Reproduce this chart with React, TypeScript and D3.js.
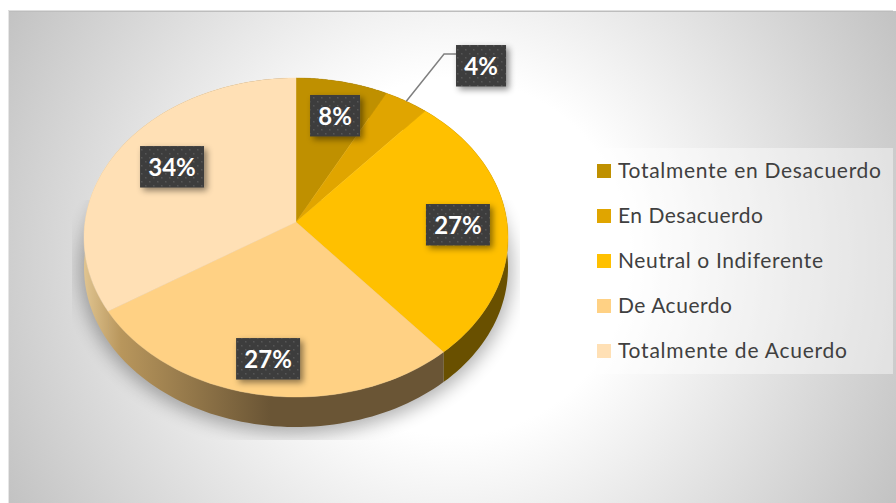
import React from "react";
import * as d3 from "d3";

const categories = ["Totalmente en Desacuerdo", "En Desacuerdo", "Neutral o Indiferente", "De Acuerdo", "Totalmente de Acuerdo"];
const values = [7.7, 3.7, 27.4, 27.2, 34.0];
const colors = ["#BF9000", "#E0A500", "#FFC000", "#FFD184", "#FFE0B5"];
const legendWidths = [263, 145, 205, 114, 229];
// label anchors in the pie's own unit-disc coordinates
const labelAnchors: [number, number][] = [[0.198, -0.718], [0.97, -1.092], [0.766, 0.019], [-0.122, 0.8], [-0.608, -0.36]];

const W = 896, H = 503;
const cx = 296, cy = 222, a = 211, b = 158, p = 0.0972, depth = 30;
const project = (u: number, v: number): [number, number] => {
  const d = 1 - p * v;
  return [cx + (a * u) / d, cy + (b * v) / d];
};
const rim = (t: number) => project(Math.sin(t), -Math.cos(t));
const arcs = d3.pie<number>().sort(null).value((d) => d)(values);
const line = d3.line();

const rimPoints = (s: number, e: number) => d3.range(0, 61).map((i) => rim(s + ((e - s) * i) / 60));

export default function App() {
  const legendY = d3.scalePoint<number>().domain(d3.range(5)).range([171, 351]);
  return (
    <svg width={W} height={H} style={{ position: "absolute", left: 0, top: 0 }} fontFamily="Lato, 'Open Sans', sans-serif">
      <defs>
        <radialGradient id="bg" gradientUnits="userSpaceOnUse" cx={452} cy={257} r={510}>
          <stop offset="0.35" stopColor="#ffffff" />
          <stop offset="1" stopColor="#c2c2c2" />
        </radialGradient>
        <linearGradient id="wallLight" gradientUnits="userSpaceOnUse" x1={84} x2={270} y1={0} y2={0}>
          <stop offset="0" stopColor="#e0c490" />
          <stop offset="0.2" stopColor="#b8965c" />
          <stop offset="1" stopColor="#6a5535" />
        </linearGradient>
        <filter id="shadowBlur" x="-20%" y="-20%" width="140%" height="140%">
          <feGaussianBlur stdDeviation="9" />
        </filter>
        <filter id="labelShadow" x="-30%" y="-30%" width="170%" height="170%">
          <feDropShadow dx="3" dy="3" stdDeviation="3" floodColor="#000" floodOpacity="0.45" />
        </filter>
        <pattern id="dots" width="8" height="8" patternUnits="userSpaceOnUse">
          <rect width="8" height="8" fill="#3d3d3d" />
          <rect x="1" y="1" width="1.5" height="1.5" fill="#565656" />
          <rect x="5" y="5" width="1.5" height="1.5" fill="#565656" />
        </pattern>
        <clipPath id="shadowClip"><rect x={72} y={200} width={448} height={240} /></clipPath>
      </defs>

      <rect x={8} y={11} width={888} height={492} fill="url(#bg)" />
      <rect x={8} y={10.5} width={885} height={1.5} fill="#bdbdbd" />
      <rect x={8} y={11} width={1} height={492} fill="#e6e6e6" />

      <g clipPath="url(#shadowClip)">
        <ellipse cx={296} cy={270} rx={216} ry={164} fill="#000" opacity={0.3} filter="url(#shadowBlur)" />
      </g>

      {arcs.map((d, i) => {
        const pts = rimPoints(d.startAngle, d.endAngle);
        const low = pts.map(([x, y]) => [x, y + depth] as [number, number]).reverse();
        const fill = i === 3 || i === 4 ? "url(#wallLight)" : "#695000";
        return <path key={i} d={line([...pts, ...low]) + "Z"} fill={fill} />;
      })}
      {arcs.map((d, i) => (
        <path key={i} d={line([[cx, cy], ...rimPoints(d.startAngle, d.endAngle)]) + "Z"} fill={colors[i]} stroke={colors[i]} strokeWidth={0.4} />
      ))}

      {(() => {
        const t = (arcs[1].startAngle + arcs[1].endAngle) / 2;
        const [lx, ly] = project(labelAnchors[1][0], labelAnchors[1][1]);
        const start = rim(t);
        return <path d={line([start, [lx - 37, ly - 12], [lx - 25, ly - 12]]) ?? ""} fill="none" stroke="#808080" strokeWidth={1.5} />;
      })()}

      {values.map((v, i) => {
        const [x, y] = project(labelAnchors[i][0], labelAnchors[i][1]);
        const text = `${Math.round(v)}%`;
        const w = Math.round(v) < 10 ? 50 : 64;
        return (
          <g key={i}>
            <rect x={x - w / 2} y={y - 21} width={w} height={41.5} fill="url(#dots)" filter="url(#labelShadow)" />
            <text x={x} y={y + 9} textAnchor="middle" fontSize={24} fontWeight={700} fill="#fff">{text}</text>
          </g>
        );
      })}

      <rect x={584} y={148} width={309} height={226} fill="#fff" fillOpacity={0.42} />
      {categories.map((c, i) => (
        <g key={c}>
          <rect x={597} y={legendY(i)! - 7} width={14} height={14} fill={colors[i]} />
          <text x={618} y={legendY(i)! + 7} fontSize={21} fill="#404040" textLength={legendWidths[i]} lengthAdjust="spacing">{c}</text>
        </g>
      ))}
    </svg>
  );
}
